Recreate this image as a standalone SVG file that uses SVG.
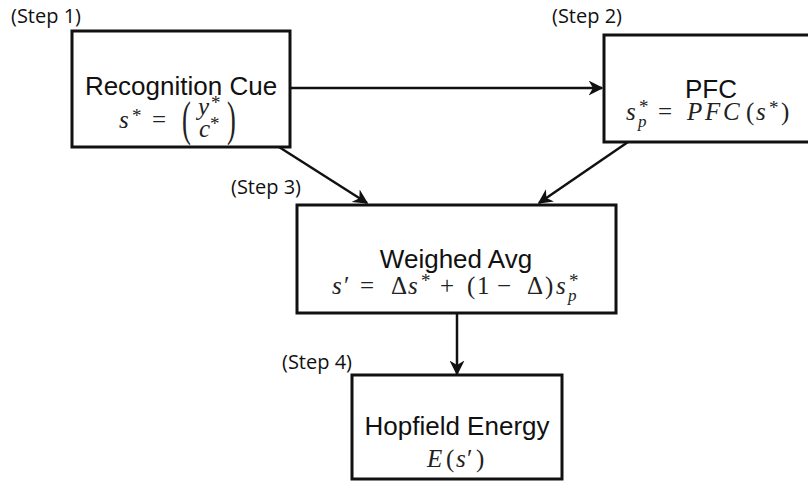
<svg xmlns="http://www.w3.org/2000/svg" width="808" height="482" viewBox="0 0 808 482">
<style>
.box{fill:#fff;stroke:#111;stroke-width:3}
.title{font-family:"Liberation Sans",Arial,sans-serif;font-size:26px;fill:#111;text-anchor:middle}
.math{font-family:"Liberation Serif","Times New Roman",serif;font-size:25px;fill:#222}
.it{font-style:italic}
.sup{font-size:19px}
.sub{font-size:17px;font-style:italic}
.paren{font-family:"Liberation Serif","Times New Roman",serif;font-size:48px;fill:#222}
.step{font-family:"Open Sans","DejaVu Sans",sans-serif;font-size:20px;fill:#111}
.conn{stroke:#111;stroke-width:2.5;fill:none;marker-end:url(#ah)}
</style>
<defs>
<marker id="ah" viewBox="0 0 10 10" refX="9" refY="5" markerWidth="6" markerHeight="6" orient="auto" markerUnits="strokeWidth">
<path d="M0,0 L10,5 L0,10 L3,5 z" fill="#111"/>
</marker>
</defs>
<rect width="808" height="482" fill="#fff"/>
<g id="connectors">
<line class="conn" x1="291" y1="88" x2="602" y2="88"/>
<line class="conn" x1="279" y1="147" x2="367" y2="203"/>
<line class="conn" x1="628" y1="142" x2="539" y2="203"/>
<line class="conn" x1="457" y1="313" x2="457" y2="374"/>
</g>
<g id="step-labels">
<text class="step" x="11" y="23">(Step 1)</text>
<text class="step" x="552" y="23">(Step 2)</text>
<text class="step" x="231" y="194">(Step 3)</text>
<text class="step" x="282" y="369">(Step 4)</text>
</g>
<g id="recognition-cue">
<rect class="box" x="72" y="31" width="218" height="116"/>
<text class="title" x="181" y="95">Recognition Cue</text>
<text class="math"><tspan class="it" x="119" y="128">s</tspan><tspan class="sup" x="132" y="122">*</tspan><tspan x="152" y="128">=</tspan></text>
<text class="paren" transform="translate(182,0) scale(0.55,1)" x="0" y="135">(</text>
<text class="math"><tspan class="it" x="198" y="115">y</tspan><tspan class="sup" x="211" y="109">*</tspan><tspan class="it" x="199" y="137">c</tspan><tspan class="sup" x="210" y="130">*</tspan></text>
<text class="paren" transform="translate(227,0) scale(0.55,1)" x="0" y="135">)</text>
</g>
<g id="pfc">
<rect class="box" x="604" y="35" width="210" height="107"/>
<text class="title" x="711" y="98">PFC</text>
<text class="math"><tspan class="it" x="626" y="120">s</tspan><tspan class="sup" x="639" y="113">*</tspan><tspan class="sub" x="638" y="127">p</tspan><tspan x="658" y="120">=</tspan><tspan class="it" x="687" y="120">P</tspan><tspan class="it" x="705" y="120">F</tspan><tspan class="it" x="723" y="120">C</tspan><tspan x="746" y="120">(</tspan><tspan class="it" x="756" y="120">s</tspan><tspan class="sup" x="769" y="114">*</tspan><tspan x="781" y="120">)</tspan></text>
</g>
<g id="weighed-avg">
<rect class="box" x="297" y="205" width="319" height="108"/>
<text class="title" x="456" y="268">Weighed Avg</text>
<text class="math"><tspan class="it" x="332" y="294">s</tspan><tspan x="344" y="294">′</tspan><tspan x="360" y="294">=</tspan><tspan x="391" y="294">Δ</tspan><tspan class="it" x="408" y="294">s</tspan><tspan class="sup" x="421" y="287">*</tspan><tspan x="440" y="294">+</tspan><tspan x="467" y="294">(</tspan><tspan x="477" y="294">1</tspan><tspan x="497" y="294">−</tspan><tspan x="527" y="294">Δ</tspan><tspan x="545" y="294">)</tspan><tspan class="it" x="556" y="294">s</tspan><tspan class="sup" x="569" y="287">*</tspan><tspan class="sub" x="568" y="301">p</tspan></text>
</g>
<g id="hopfield-energy">
<rect class="box" x="352" y="375" width="210" height="104"/>
<text class="title" x="457" y="435">Hopfield Energy</text>
<text class="math"><tspan class="it" x="427" y="467">E</tspan><tspan x="446" y="467">(</tspan><tspan class="it" x="456" y="467">s</tspan><tspan x="467" y="467">′</tspan><tspan x="476" y="467">)</tspan></text>
</g>
</svg>
